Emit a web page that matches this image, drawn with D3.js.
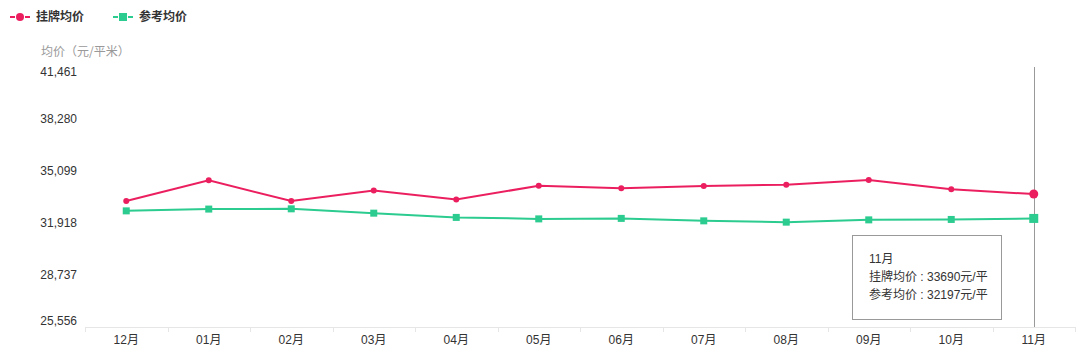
<!DOCTYPE html>
<html>
<head>
<meta charset="utf-8">
<script src="https://cdn.jsdelivr.net/npm/d3@7"></script>
<style>
  body { margin: 0; background: #fff; font-family: "Liberation Sans", "Noto Sans CJK SC", sans-serif; }
  #chart { position: relative; width: 1076px; height: 355px; }
  .tip {
    position: absolute; left: 852px; top: 235px; width: 150px; height: 85px;
    border: 1px solid #999; background: #fff; box-sizing: border-box;
    font-size: 12px; color: #333; padding: 14px 0 0 16px; line-height: 18px;
  }
</style>
</head>
<body>
<div id="chart"></div>
<script>
"use strict";

var months = ["12月", "01月", "02月", "03月", "04月", "05月", "06月", "07月", "08月", "09月", "10月", "11月"];
var listing = [33260, 34530, 33260, 33900, 33350, 34200, 34040, 34180, 34265, 34545, 33980, 33690];
var reference = [32660, 32770, 32785, 32520, 32260, 32170, 32200, 32050, 31970, 32110, 32135, 32197];
var yTicks = [25556, 28737, 31918, 35099, 38280, 41461];
var seriesNames = ["挂牌均价", "参考均价"];
var seriesColors = ["#eb1f5f", "#2ccb8f"];

(function(){
    var width = 1076, height = 355,
        left = 85, right = 1075, top = 67, bottom = 327,
        font = "'Liberation Sans', 'Noto Sans CJK SC', sans-serif";

    var svg = d3.select("#chart").append("svg")
        .attr("width", width)
        .attr("height", height);

    var x = d3.scaleBand().domain(months).range([left, right]);
    var y = d3.scaleLinear().domain([yTicks[0], yTicks[yTicks.length - 1]]).range([bottom, top]);

    // x axis
    var xAxis = svg.append("g")
        .attr("transform", "translate(0," + bottom + ")")
        .call(d3.axisBottom(x).tickSize(0).tickPadding(8));
    xAxis.select(".domain").remove();
    xAxis.selectAll("text").attr("fill", "#333").attr("font-size", 12)
        .attr("font-family", font);
    svg.append("line")
        .attr("x1", left).attr("x2", right)
        .attr("y1", bottom + 0.5).attr("y2", bottom + 0.5)
        .attr("stroke", "#e6e6e6");
    // band separators
    var seps = months.map(function(m){ return x(m); }).concat([right]);
    svg.selectAll(".sep").data(seps).enter().append("line")
        .attr("x1", function(d){ return Math.round(d) + 0.5; })
        .attr("x2", function(d){ return Math.round(d) + 0.5; })
        .attr("y1", bottom).attr("y2", bottom + 5)
        .attr("stroke", "#e6e6e6");

    // y labels (first and last nudged inside)
    svg.selectAll(".ylab").data(yTicks).enter().append("text")
        .attr("x", 77)
        .attr("y", function(d, i){
            var p = y(d);
            if (i === 0) p -= 6;
            if (i === yTicks.length - 1) p += 5;
            return p;
        })
        .attr("dy", ".35em")
        .attr("text-anchor", "end")
        .attr("fill", "#333")
        .attr("font-size", 12)
        .attr("font-family", font)
        .text(function(d){ return d3.format(",")(d); });

    svg.append("text")
        .attr("x", 41).attr("y", 56)
        .attr("fill", "#999")
        .attr("font-size", 12)
        .attr("font-family", "'Noto Sans CJK SC', sans-serif")
        .text("均价（元/平米）");

    // crosshair on last month
    var last = months[months.length - 1];
    var cx = x(last) + x.bandwidth() / 2;
    svg.append("line")
        .attr("x1", Math.round(cx) + 0.5).attr("x2", Math.round(cx) + 0.5)
        .attr("y1", top).attr("y2", bottom)
        .attr("stroke", "#999");

    var line = d3.line()
        .x(function(d, i){ return x(months[i]) + x.bandwidth() / 2; })
        .y(function(d){ return y(d); });

    [listing, reference].forEach(function(vals, s){
        var g = svg.append("g");
        g.append("path")
            .attr("d", line(vals))
            .attr("fill", "none")
            .attr("stroke", seriesColors[s])
            .attr("stroke-width", 2);
        var pts = g.selectAll(".pt").data(vals).enter();
        if (s === 0) {
            pts.append("circle")
                .attr("cx", function(d, i){ return x(months[i]) + x.bandwidth() / 2; })
                .attr("cy", function(d){ return y(d); })
                .attr("r", function(d, i){ return i === vals.length - 1 ? 4.5 : 3; })
                .attr("fill", seriesColors[s]);
        } else {
            pts.append("rect")
                .attr("x", function(d, i){ var z = i === vals.length - 1 ? 4.5 : 3.5; return x(months[i]) + x.bandwidth() / 2 - z; })
                .attr("y", function(d, i){ var z = i === vals.length - 1 ? 4.5 : 3.5; return y(d) - z; })
                .attr("width", function(d, i){ return i === vals.length - 1 ? 9 : 7; })
                .attr("height", function(d, i){ return i === vals.length - 1 ? 9 : 7; })
                .attr("fill", seriesColors[s]);
        }
    });

    // legend
    var legX = [10, 113];
    seriesNames.forEach(function(name, s){
        var lg = svg.append("g").attr("transform", "translate(" + legX[s] + ",17)");
        lg.append("line").attr("x1", 0).attr("x2", 20).attr("y1", 0).attr("y2", 0)
            .attr("stroke", seriesColors[s]).attr("stroke-width", 2)
            .attr("stroke-dasharray", "5,10,5");
        if (s === 0) {
            lg.append("circle").attr("cx", 10).attr("cy", 0).attr("r", 4).attr("fill", seriesColors[s]);
        } else {
            lg.append("rect").attr("x", 6).attr("y", -4).attr("width", 8).attr("height", 8).attr("fill", seriesColors[s]);
        }
        lg.append("text").attr("x", 26).attr("dy", ".35em")
            .attr("font-size", 12).attr("font-weight", "bold").attr("fill", "#333")
            .attr("font-family", "'Noto Sans CJK SC', sans-serif")
            .text(name);
    });

    // tooltip
    var n = months.length - 1;
    d3.select("#chart").append("div").attr("class", "tip")
        .html(months[n] + "<br>" + seriesNames[0] + " : " + listing[n] + "元/平<br>" +
              seriesNames[1] + " : " + reference[n] + "元/平");
})();
</script>
</body>
</html>
